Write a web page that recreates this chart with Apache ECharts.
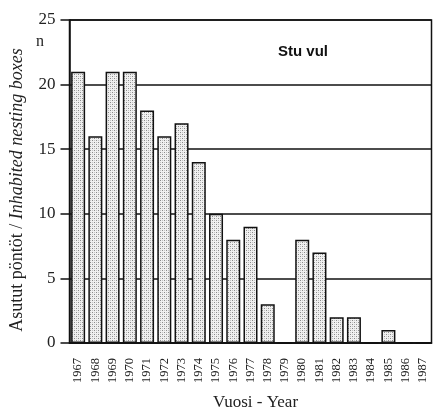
<!DOCTYPE html>
<html><head><meta charset="utf-8">
<script src="https://cdn.jsdelivr.net/npm/echarts@6/dist/echarts.min.js"></script>
<style>html,body{margin:0;padding:0;background:#fff}#c{width:434px;height:411px}</style>
</head><body><div id="c"></div>
<script>
const years = ['1967','1968','1969','1970','1971','1972','1973','1974','1975','1976','1977','1978','1979','1980','1981','1982','1983','1984','1985','1986','1987'];
const values = [21,16,21,21,18,16,17,14,10,8,9,3,0,8,7,2,2,0,1,0,0];
const yTicks = [0,5,10,15,20,25];

const pc = document.createElement('canvas');
pc.width = 4; pc.height = 4;
const g = pc.getContext('2d');
g.fillStyle = '#f0f0f0'; g.fillRect(0,0,4,4);
g.fillStyle = '#8a8a8a'; g.fillRect(0,0,1,1); g.fillRect(2,2,1,1);
g.fillStyle = '#c4c4c4'; g.fillRect(2,0,1,1); g.fillRect(0,2,1,1);

const serif = '"Liberation Serif","DejaVu Serif",serif';
const chart = echarts.init(document.getElementById('c'), null, {renderer:'canvas'});
chart.setOption({
  animation:false,
  backgroundColor:'#fff',
  grid:{left:69.5, right:2.5, top:20, bottom:68, containLabel:false, outerBoundsMode:'none',
    show:true, borderColor:'#111', borderWidth:1.5, backgroundColor:'transparent'},
  xAxis:{
    type:'category', data:years,
    axisLine:{lineStyle:{color:'#111', width:1.5}},
    axisTick:{alignWithLabel:true, length:6, lineStyle:{color:'#111', width:1.5}},
    axisLabel:{rotate:90, color:'#222', fontFamily:serif, fontSize:12.5, margin:15},
    name:'Vuosi - Year', nameLocation:'middle', nameGap:51,
    nameTextStyle:{fontFamily:serif, fontSize:17, color:'#222', padding:[0,0,0,10]}
  },
  yAxis:{
    type:'value', min:0, max:25, interval:5,
    axisLine:{show:true, lineStyle:{color:'#111', width:1.5}},
    axisTick:{show:true, length:9, lineStyle:{color:'#111', width:1.5}},
    axisLabel:{color:'#222', fontFamily:serif, fontSize:17, margin:14,
      customValues: yTicks},
    splitLine:{lineStyle:{color:'#111', width:1.5}}
  },
  graphic:[
    {type:'text', x:36, y:34, style:{text:'n', font:'16px '+serif, fill:'#222'}},
    {type:'text', x:278, y:44, style:{text:'Stu vul', font:'bold 15px "Liberation Sans",Arial,sans-serif', fill:'#111'}},
    {type:'text', x:17, y:190, rotation:Math.PI/2, style:{
      text:'{a|Asutut pöntöt / }{b|Inhabited nesting boxes}', align:'center', verticalAlign:'middle',
      rich:{a:{fontFamily:serif, fontSize:18, fill:'#222'}, b:{fontFamily:serif, fontSize:18, fontStyle:'italic', fill:'#222'}}
    }}
  ],
  series:[{
    type:'bar', data:values, barWidth:14,
    itemStyle:{color:{image:pc, repeat:'repeat'}, borderColor:'#111', borderWidth:1.5}
  }]
});
</script></body></html>
